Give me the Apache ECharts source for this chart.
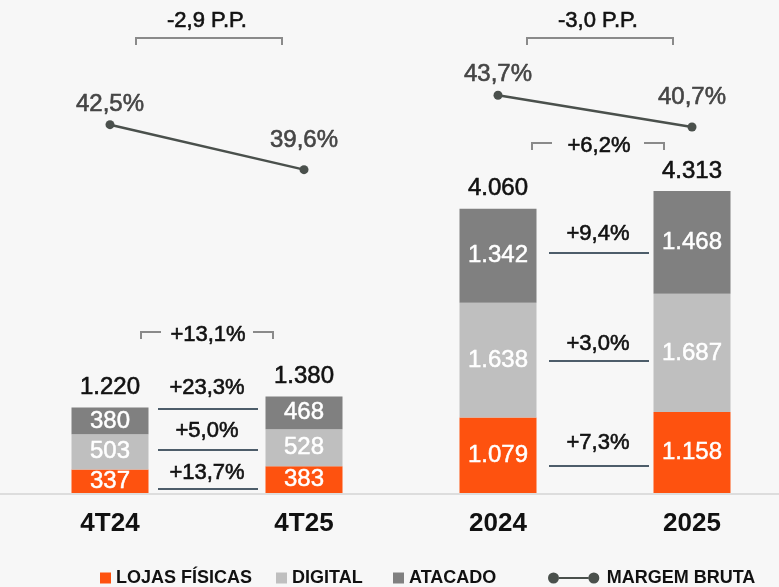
<!DOCTYPE html>
<html>
<head>
<meta charset="utf-8">
<script src="https://cdn.jsdelivr.net/npm/echarts@6/dist/echarts.min.js"></script>
<style>
  html, body { margin: 0; padding: 0; background: #f7f7f7; }
  #chart { width: 779px; height: 587px; }
</style>
</head>
<body>
<div id="chart"></div>
<script>
const categories = ['4T24', '4T25', '2024', '2025'];
const lojasFisicas = [337, 383, 1079, 1158];
const digital = [503, 528, 1638, 1687];
const atacado = [380, 468, 1342, 1468];
const totals = [1220, 1380, 4060, 4313];
const margemBruta = [42.5, 39.6, 43.7, 40.7];

// variações entre os pares (4T24→4T25, 2024→2025)
const changeAtacado = ['+23,3%', '+9,4%'];
const changeDigital = ['+5,0%', '+3,0%'];
const changeLojas = ['+13,7%', '+7,3%'];
const changeTotal = ['+13,1%', '+6,2%'];
const changeMargem = ['-2,9 P.P.', '-3,0 P.P.'];

const fmtInt = v => String(v).replace(/\B(?=(\d{3})+(?!\d))/g, '.');
const fmtPct = v => v.toFixed(1).replace('.', ',') + '%';

const FONT = 'Liberation Sans';
const chart = echarts.init(document.getElementById('chart'));

const barLabel = {
    show: true,
    position: 'inside',
    color: '#fff',
    fontFamily: FONT,
    fontSize: 24,
    textBorderColor: '#fff',
    textBorderWidth: 0.5,
    formatter: p => fmtInt(p.value)
};

const barSeries = (name, data, color) => ({
    name: name,
    type: 'bar',
    stack: 'total',
    barWidth: 77,
    clip: false,
    data: data,
    itemStyle: { color: color },
    label: barLabel,
    emphasis: { disabled: true }
});

const lineSeries = (from, to, axis) => ({
    name: 'MARGEM BRUTA',
    type: 'line',
    yAxisIndex: axis,
    clip: false,
    data: margemBruta.map((v, i) => {
        if (i < from || i > to) return '-';
        return { value: v, label: { distance: i === from ? 4 : 13 } };
    }),
    symbol: 'circle',
    symbolSize: 9,
    lineStyle: { color: '#4a504c', width: 2.5 },
    itemStyle: { color: '#4a504c' },
    label: {
        show: true,
        position: 'top',
        color: '#454545',
        fontFamily: FONT,
        fontSize: 24,
        textBorderColor: '#454545',
        textBorderWidth: 0.6,
        formatter: p => fmtPct(p.value)
    },
    z: 5
});

const legendAt = (name, left, icon, w) => ({
    data: [name],
    left: left,
    top: 569,
    padding: 0,
    icon: icon,
    itemWidth: w,
    itemHeight: 11,
    itemGap: 0,
    textStyle: { fontFamily: FONT, fontWeight: 'bold', fontSize: 18, color: '#111' },
    selectedMode: false
});

const option = {
    backgroundColor: '#f7f7f7',
    animation: false,
    grid: { left: 110, right: 87, top: 3, bottom: 94 },
    legend: [
        legendAt('LOJAS FÍSICAS', 100, 'rect', 11),
        legendAt('DIGITAL', 276, 'rect', 11),
        legendAt('ATACADO', 393, 'rect', 11),
        legendAt('MARGEM BRUTA', 548,
            'path://M0,6a6,6 0 1,0 12,0a6,6 0 1,0 -12,0ZM44,6a6,6 0 1,0 12,0a6,6 0 1,0 -12,0ZM12,4.8L44,4.8L44,7.2L12,7.2Z', 56)
    ],
    xAxis: {
        type: 'category',
        data: categories,
        boundaryGap: false,
        axisLine: { show: false },
        axisTick: { show: false },
        axisLabel: {
            margin: 18,
            color: '#111',
            fontFamily: FONT,
            fontWeight: 'bold',
            fontSize: 26
        }
    },
    yAxis: [
        { type: 'value', min: 0, max: 7000, show: false },
        { type: 'value', min: 18.74, max: 50.35, show: false },
        { type: 'value', min: 6.07, max: 52.43, show: false }
    ],
    series: [
        barSeries('LOJAS FÍSICAS', lojasFisicas, '#fe520f'),
        barSeries('DIGITAL', digital, '#bfbfbf'),
        barSeries('ATACADO', atacado, '#808080'),
        {
            name: 'total',
            type: 'bar',
            stack: 'total',
            barWidth: 77,
            clip: false,
            data: totals.map(() => 0),
            itemStyle: { color: 'transparent' },
            label: {
                show: true,
                position: 'top',
                distance: 8,
                color: '#111',
                fontFamily: FONT,
                fontSize: 24,
                textBorderColor: '#111',
                textBorderWidth: 0.6,
                formatter: p => fmtInt(totals[p.dataIndex])
            }
        },
        lineSeries(0, 1, 1),
        lineSeries(2, 3, 2)
    ]
};

chart.setOption(option);

// anotações: linha de base, colchetes e linhas de variação entre os pares
const pairs = [[0, 1], [2, 3]];
const nudge = [1, 4];
const bracketY = [332, 143];
const rowLineY = [[409, 450, 489], [253, 361, 466]];
const rowTextY = [[388, 431, 473], [234, 344, 443]];
const textFont = '22px "Liberation Sans"';
const graphics = [];

const baseY = chart.convertToPixel({ yAxisIndex: 0 }, 0);
graphics.push({
    type: 'line',
    shape: { x1: 0, y1: baseY + 1, x2: 779, y2: baseY + 1 },
    style: { stroke: '#dddddd', lineWidth: 2 },
    z: -1
});

const addText = (text, x, y) => graphics.push({
    type: 'text',
    style: {
        text: text, x: x, y: y, font: textFont, fill: '#111',
        stroke: '#111', lineWidth: 0.6,
        align: 'center', verticalAlign: 'middle', textAlign: 'center', textVerticalAlign: 'middle'
    }
});
const addPoly = (points, color) => graphics.push({
    type: 'polyline',
    shape: { points: points },
    style: { stroke: color, lineWidth: 2, fill: null }
});

pairs.forEach((pair, g) => {
    const xa = chart.convertToPixel({ xAxisIndex: 0 }, categories[pair[0]]);
    const xb = chart.convertToPixel({ xAxisIndex: 0 }, categories[pair[1]]);
    const m = (xa + xb) / 2 + nudge[g];

    // colchete margem
    addPoly([[m - 72, 45], [m - 72, 38], [m + 74, 38], [m + 74, 45]], '#8a8a8a');
    addText(changeMargem[g], m - 1, 21);

    // colchete total
    const by = bracketY[g];
    addPoly([[m - 67, by + 7], [m - 67, by], [m - 47, by]], '#8a8a8a');
    addPoly([[m + 45, by], [m + 65, by], [m + 65, by + 7]], '#8a8a8a');
    addText(changeTotal[g], m, by + 3);

    // linhas por segmento
    [changeAtacado, changeDigital, changeLojas].forEach((arr, r) => {
        addPoly([[m - 50, rowLineY[g][r]], [m + 50, rowLineY[g][r]]], '#4d5d6a');
        addText(arr[g], m - 1, rowTextY[g][r]);
    });
});

chart.setOption({ graphic: graphics });
</script>
</body>
</html>
